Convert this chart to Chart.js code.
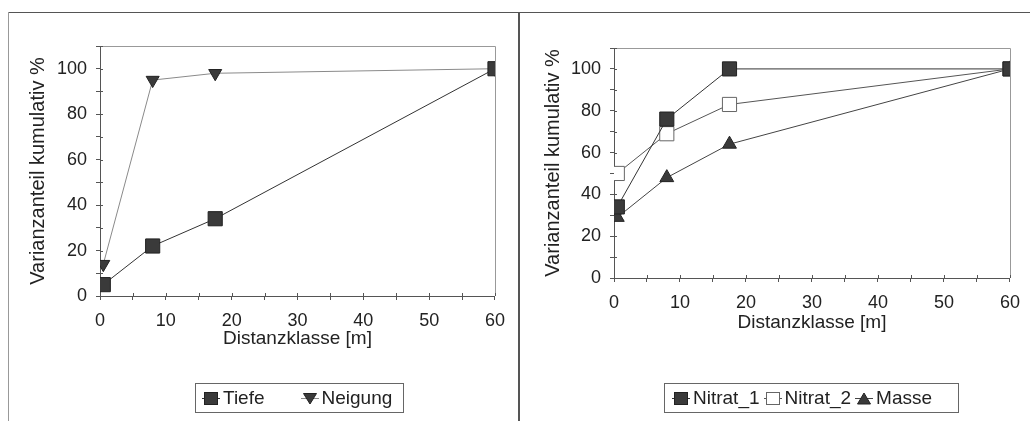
<!DOCTYPE html>
<html><head><meta charset="utf-8">
<script src="https://cdn.jsdelivr.net/npm/chart.js@4.4.1/dist/chart.umd.min.js"></script>
<style>
html,body{margin:0;padding:0;background:#fff;}
body{width:1030px;height:421px;position:relative;overflow:hidden;font-family:'Liberation Sans',Arial,sans-serif;}
canvas{position:absolute;top:0;}
#c1{left:0}
#c2{left:515px}
.frame{position:absolute;background:#555;}
.legend{position:absolute;border:1px solid #666;display:flex;align-items:center;font-size:19px;color:#222;box-sizing:border-box;white-space:nowrap;}
.item{display:flex;align-items:center;}
.item svg{margin-right:3px;}
</style></head><body>
<canvas id="c1" width="515" height="421"></canvas>
<canvas id="c2" width="515" height="421"></canvas>
<div class="frame" style="left:8px;top:12px;width:1022px;height:1px"></div>
<div class="frame" style="left:8px;top:12px;width:1px;height:409px;background:#999"></div>
<div class="frame" style="left:518px;top:12px;width:2px;height:409px"></div>
<div id="leg1" class="legend" style="left:195px;top:383px;width:209px;height:30px;padding-left:6px;gap:36px"></div>
<div id="leg2" class="legend" style="left:664px;top:383px;width:295px;height:30px;padding-left:7px;gap:4px"></div>
<script>
// ---- data ----
const distX = [0.5, 8, 17.5, 60];
const tiefe = [5, 22, 34, 100];
const neigung = [14, 95, 98, 100];
const nitrat1 = [34, 76, 100, 100];
const nitrat2 = [50, 69, 83, 100];
const masse = [29, 48, 64, 100];
const leftNames = ['Tiefe', 'Neigung'];
const rightNames = ['Nitrat_1', 'Nitrat_2', 'Masse'];
const xTitle = 'Distanzklasse [m]';
const yTitle = 'Varianzanteil kumulativ %';
const xMin = 0, xMax = 60, xStep = 5, xLabelEvery = 10;
const yMin = 0, yMax = 110, yStep = 10, yLabelEvery = 20;

const FONT = "'Liberation Sans', Arial, sans-serif";
const DARK = '#3a3a3a';

function pts(ys){ return distX.map((x,i)=>({x:x, y:ys[i]})); }

const styles = {
  Tiefe:   {shape:'rect', r:10, rot:0, fill:DARK, stroke:'#222', line:'#333'},
  Neigung: {shape:'triangle', r:7.5, rot:180, fill:DARK, stroke:'#222', line:'#8a8a8a'},
  Nitrat_1:{shape:'rect', r:10, rot:0, fill:DARK, stroke:'#222', line:'#333'},
  Nitrat_2:{shape:'rect', r:10, rot:0, fill:'#fff', stroke:'#666', line:'#555'},
  Masse:   {shape:'triangle', r:8, rot:0, fill:DARK, stroke:'#222', line:'#444'}
};

function ds(name, ys){
  const s = styles[name];
  return {label:name, data:pts(ys), showLine:true, borderColor:s.line, borderWidth:1,
    pointStyle:s.shape, pointRotation:s.rot, pointRadius:s.r, pointHoverRadius:s.r,
    pointBackgroundColor:s.fill, pointBorderColor:s.stroke, pointBorderWidth:1};
}

const framePlugin = {
  id:'frame',
  beforeDatasetsDraw(chart){
    const {ctx, chartArea:a, scales} = chart;
    ctx.save();
    ctx.strokeStyle = '#999'; ctx.lineWidth = 1;
    ctx.beginPath();
    ctx.moveTo(a.left, Math.round(a.top)+0.5);
    ctx.lineTo(Math.round(a.right)+0.5, Math.round(a.top)+0.5);
    ctx.lineTo(Math.round(a.right)+0.5, a.bottom);
    ctx.stroke();
    ctx.strokeStyle = '#555';
    ctx.beginPath();
    scales.x.ticks.forEach(t=>{const p=Math.round(scales.x.getPixelForValue(t.value))+0.5; ctx.moveTo(p,a.bottom); ctx.lineTo(p,a.bottom-3);});
    scales.y.ticks.forEach(t=>{const p=Math.round(scales.y.getPixelForValue(t.value))+0.5; ctx.moveTo(a.left,p); ctx.lineTo(a.left+3,p);});
    ctx.stroke();
    ctx.restore();
  }
};

function makeChart(id, datasets, lay){
  return new Chart(document.getElementById(id), {
    type:'scatter',
    data:{datasets:datasets},
    options:{
      responsive:false, animation:false, devicePixelRatio:1,
      layout:{padding:{left:22, top:lay.top, right:lay.right, bottom:lay.bottom}},
      plugins:{legend:{display:false}, tooltip:{enabled:false}},
      scales:{
        x:{type:'linear', min:xMin, max:xMax,
          afterFit(s){ s.height = 60; },
          ticks:{stepSize:xStep, autoSkip:false, maxRotation:0, padding:10, color:'#222',
            font:{family:FONT, size:18}, callback:v=> v%xLabelEvery===0 ? String(v) : ''},
          grid:{drawOnChartArea:false, tickLength:4, color:'#555'},
          border:{color:'#555', width:1},
          title:{display:true, text:xTitle, color:'#222', font:{family:FONT, size:19}, padding:{top:0, bottom:lay.xtb}}
        },
        y:{type:'linear', min:yMin, max:yMax,
          afterFit(s){ s.width = lay.yw; },
          ticks:{stepSize:yStep, autoSkip:false, padding:9, color:'#222',
            font:{family:FONT, size:18}, callback:v=> v%yLabelEvery===0 ? String(v) : ''},
          grid:{drawOnChartArea:false, tickLength:4, color:'#555'},
          border:{color:'#555', width:1},
          title:{display:true, text:yTitle, color:'#222', font:{family:FONT, size:20}, padding:{top:4, bottom:0}}
        }
      }
    },
    plugins:[framePlugin]
  });
}

makeChart('c1', [ds('Tiefe', tiefe), ds('Neigung', neigung)], {top:46, right:16, bottom:65, xtb:6, yw:78});
makeChart('c2', [ds('Nitrat_1', nitrat1), ds('Nitrat_2', nitrat2), ds('Masse', masse)], {top:48, right:20, bottom:83, xtb:4, yw:77});

function markerSvg(name){
  const s = styles[name];
  let shape = '';
  if (s.shape === 'rect') {
    shape = '<rect x="2.5" y="1.5" width="13" height="12" fill="'+s.fill+'" stroke="'+s.stroke+'" stroke-width="1"/>';
  } else if (s.rot === 180) {
    shape = '<polygon points="2.5,2.5 15.5,2.5 9,13" fill="'+s.fill+'" stroke="'+s.stroke+'" stroke-width="1"/>';
  } else {
    shape = '<polygon points="2.5,13 15.5,13 9,2" fill="'+s.fill+'" stroke="'+s.stroke+'" stroke-width="1"/>';
  }
  return '<svg width="18" height="15" viewBox="0 0 18 15"><line x1="0" y1="7.5" x2="18" y2="7.5" stroke="'+s.line+'" stroke-width="1"/>'+shape+'</svg>';
}
function buildLegend(elId, names){
  const el = document.getElementById(elId);
  names.forEach(n=>{
    const d = document.createElement('div');
    d.className = 'item';
    d.innerHTML = markerSvg(n) + '<span>'+n+'</span>';
    el.appendChild(d);
  });
}
buildLegend('leg1', leftNames);
buildLegend('leg2', rightNames);
</script>
</body></html>
